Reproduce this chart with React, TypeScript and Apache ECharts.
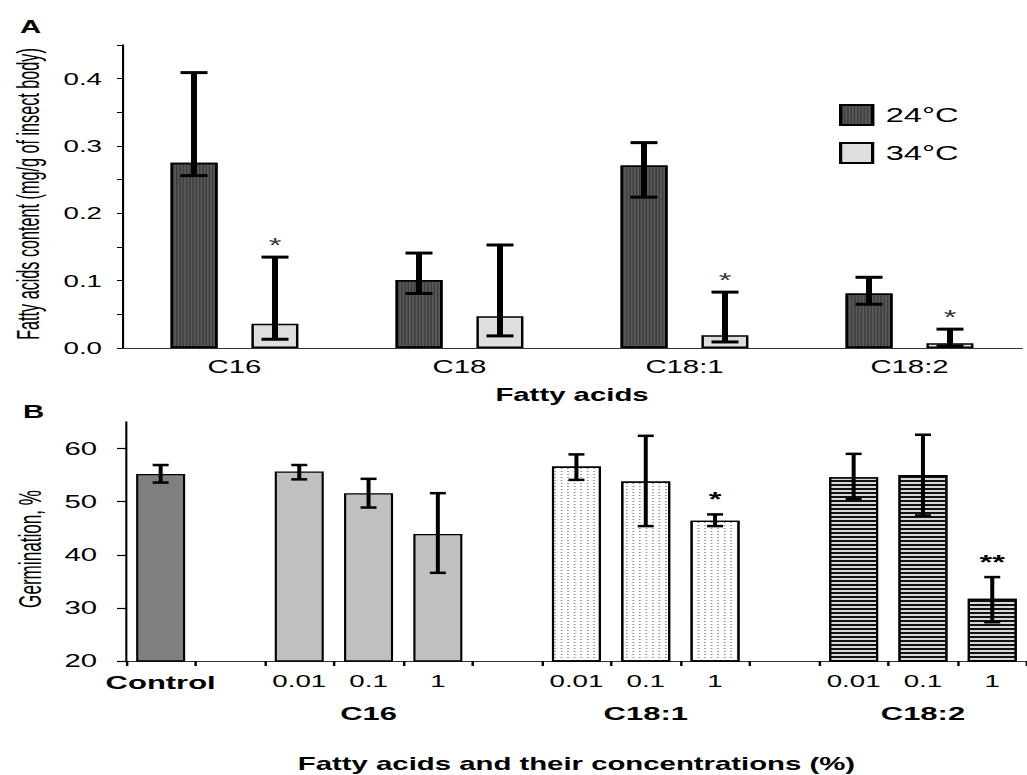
import React, { useEffect, useRef } from 'react';
import * as echarts from 'echarts';

// The reference figure is horizontally stretched; we draw at a narrower width
// and stretch the whole chart by S.
const S = 1.63;
const W = 1027 / S;
const H = 775;
const X = (px: number) => px / S;
const FONT = "'Liberation Sans', Arial, Helvetica, sans-serif";

// ---------- Panel A: fatty acids content ----------
const catsA = ['C16', 'C18', 'C18:1', 'C18:2'];
const namesA = ['24°C', '34°C'];
const mean24 = [0.275, 0.101, 0.271, 0.081];
const hi24 = [0.409, 0.141, 0.305, 0.105];
const lo24 = [0.256, 0.081, 0.224, 0.065];
const mean34 = [0.036, 0.047, 0.019, 0.007];
const hi34 = [0.135, 0.153, 0.083, 0.028];
const lo34 = [0.013, 0.018, 0.009, 0.003];
const sig24 = ['', '', '', ''];
const sig34 = ['*', '', '*', '*'];
const yTicksA = ['0.0', '0.1', '0.2', '0.3', '0.4'];

// ---------- Panel B: germination ----------
const catsB = ['Control', '', '0.01', '0.1', '1', '', '0.01', '0.1', '1', '', '0.01', '0.1', '1'];
const groupsB = ['', '', '', 'C16', '', '', '', 'C18:1', '', '', '', 'C18:2', ''];
const kindB = ['control', '', 'c16', 'c16', 'c16', '', 'c181', 'c181', 'c181', '', 'c182', 'c182', 'c182'];
const meanB = [55.2, null, 55.7, 51.6, 43.9, null, 56.6, 53.8, 46.4, null, 54.6, 55.0, 31.7];
const hiB = [56.9, null, 56.9, 54.3, 51.6, null, 58.9, 62.4, 47.6, null, 59.0, 62.6, 35.8];
const loB = [53.6, null, 54.2, 48.9, 36.6, null, 54.1, 45.4, 45.4, null, 50.5, 47.4, 27.3];
const sigB = ['', '', '', '', '', '', '', '', '*', '', '', '', '**'];

const BAR_W_A = X(47);
const OFF_A = X(40.5);
const BAR_W_B = X(49);

function errRenderer(offset: number, stemW: number, capW: number, capHalf: number, stars: string[], starBold: boolean, starGap: number) {
  return (params: any, api: any) => {
    const i = api.value(0);
    const hi = api.value(1);
    const lo = api.value(2);
    const pHi = api.coord([i, hi]);
    const pLo = api.coord([i, lo]);
    const x = pHi[0] + offset;
    const children: any[] = [
      { type: 'line', shape: { x1: x, y1: pHi[1], x2: x, y2: pLo[1] }, style: { stroke: '#000', lineWidth: stemW } },
      { type: 'line', shape: { x1: x - capHalf, y1: pHi[1], x2: x + capHalf, y2: pHi[1] }, style: { stroke: '#000', lineWidth: capW } },
      { type: 'line', shape: { x1: x - capHalf, y1: pLo[1], x2: x + capHalf, y2: pLo[1] }, style: { stroke: '#000', lineWidth: capW } },
    ];
    const st = stars[i];
    if (st) {
      children.push({
        type: 'text',
        style: {
          text: st, x, y: pHi[1] - starGap, align: 'center', verticalAlign: 'bottom',
          fontSize: 20, fontWeight: starBold ? 'bold' : 'normal', fontFamily: FONT, fill: starBold ? '#000' : '#333',
        },
      });
    }
    return { type: 'group', children };
  };
}

function styleB(kind: string): any {
  const base = { borderColor: '#000', borderWidth: 1.3 };
  if (kind === 'control') return { ...base, color: '#808080' };
  if (kind === 'c16') return { ...base, color: '#c0c0c0' };
  if (kind === 'c181') return {
    ...base, color: '#ffffff',
    decal: { symbol: 'rect', symbolSize: 1, symbolKeepAspect: false, color: '#8a8a8a', dashArrayX: [0.8, 2.4], dashArrayY: [1, 1.6], rotation: 0 },
  };
  return {
    ...base, color: '#d8d8d8',
    decal: { symbol: 'rect', symbolSize: 1, symbolKeepAspect: false, color: '#111111', dashArrayX: [4, 0], dashArrayY: [1.4, 1.9], rotation: 0 },
  };
}

export default function App() {
  const ref = useRef<HTMLDivElement>(null);
  useEffect(() => {
    const chart = echarts.init(ref.current!, null, { renderer: 'svg' });
    const axisTxt = { fontFamily: FONT, color: '#000' };
    const option: any = {
      animation: false,
      backgroundColor: '#ffffff',
      textStyle: { fontFamily: FONT },
      grid: [
        { left: X(122), top: 45, width: X(900), height: 303 },
        { left: X(126), top: 422, width: X(906), height: 239 },
      ],
      legend: {
        data: namesA,
        orient: 'vertical',
        left: X(839),
        top: 104,
        padding: 0,
        itemWidth: X(32),
        itemHeight: 20,
        itemGap: 16,
        selectedMode: false,
        icon: 'rect',
        itemStyle: { borderColor: '#000', borderWidth: 2 },
        textStyle: { fontSize: 20, fontFamily: FONT, color: '#000', padding: [0, 0, 0, 3] },
      },
      xAxis: [
        {
          type: 'category', gridIndex: 0, data: catsA,
          axisLine: { lineStyle: { color: '#333', width: 1.2 } },
          axisTick: { show: false },
          axisLabel: { ...axisTxt, fontSize: 18, margin: 10 },
          name: 'Fatty acids', nameLocation: 'middle', nameGap: 38,
          nameTextStyle: { ...axisTxt, fontSize: 18, fontWeight: 'bold' },
        },
        {
          type: 'category', gridIndex: 1, data: catsB.map((_, i) => String(i)),
          axisLine: { lineStyle: { color: '#333', width: 1.2 } },
          axisTick: { show: true, interval: 0, length: 5, lineStyle: { color: '#000', width: 1.5 } },
          axisLabel: {
            ...axisTxt, fontSize: 17, margin: 12, interval: 0,
            formatter: (v: string) => {
              const i = Number(v);
              return i === 0 ? `{b|${catsB[i]}}` : catsB[i];
            },
            rich: { b: { fontSize: 19, fontWeight: 'bold', fontFamily: FONT, color: '#000' } },
          },
          name: 'Fatty acids and their concentrations (%)', nameLocation: 'middle', nameGap: 94,
          nameTextStyle: { ...axisTxt, fontSize: 18, fontWeight: 'bold' },
        },
        {
          type: 'category', gridIndex: 1, position: 'bottom', offset: 0, data: catsB.map((_, i) => String(i)),
          axisLine: { show: false }, axisTick: { show: false },
          axisLabel: {
            ...axisTxt, fontSize: 19, fontWeight: 'bold', margin: 43, interval: 0,
            formatter: (v: string) => groupsB[Number(v)],
          },
        },
      ],
      yAxis: [
        {
          type: 'value', gridIndex: 0, min: 0, max: 0.45, interval: 0.05,
          axisLine: { show: true, lineStyle: { color: '#000', width: 1.3 } },
          axisTick: { show: true, length: X(5), lineStyle: { color: '#000', width: 1 } },
          splitLine: { show: false },
          axisLabel: {
            ...axisTxt, fontSize: 17, margin: X(20),
            formatter: (v: number) => {
              const k = Math.round(v * 20);
              return k % 2 === 0 ? (yTicksA[k / 2] ?? '') : '';
            },
          },
        },
        {
          type: 'value', gridIndex: 1, min: 20, max: 65, interval: 10,
          axisLine: { show: true, lineStyle: { color: '#000', width: 1.3 } },
          axisTick: { show: true, length: X(9), lineStyle: { color: '#000', width: 1.2 } },
          splitLine: { show: false },
          axisLabel: { ...axisTxt, fontSize: 18, margin: X(29), showMaxLabel: false },
        },
      ],
      series: [
        {
          type: 'bar', name: namesA[0], xAxisIndex: 0, yAxisIndex: 0, data: mean24,
          barWidth: BAR_W_A, barGap: '72%',
          itemStyle: {
            color: '#5a5a5a', borderColor: '#000', borderWidth: 1.5,
            decal: { symbol: 'rect', symbolSize: 1, symbolKeepAspect: false, color: 'rgba(0,0,0,0.3)', dashArrayX: [0.7, 0.9], dashArrayY: [4, 0], rotation: 0 },
          },
        },
        {
          type: 'bar', name: namesA[1], xAxisIndex: 0, yAxisIndex: 0, data: mean34,
          barWidth: BAR_W_A, barGap: '72%',
          itemStyle: { color: '#dedede', borderColor: '#000', borderWidth: 1.5 },
        },
        {
          type: 'custom', xAxisIndex: 0, yAxisIndex: 0, z: 5,
          encode: { x: 0, y: [1, 2] },
          data: catsA.map((_, i) => [i, hi24[i], lo24[i]]),
          renderItem: errRenderer(-OFF_A, X(6), 3, X(13.5), sig24, false, 2),
        },
        {
          type: 'custom', xAxisIndex: 0, yAxisIndex: 0, z: 5,
          encode: { x: 0, y: [1, 2] },
          data: catsA.map((_, i) => [i, hi34[i], lo34[i]]),
          renderItem: errRenderer(OFF_A, X(6), 3, X(13.5), sig34, false, 2),
        },
        {
          type: 'bar', xAxisIndex: 1, yAxisIndex: 1, barWidth: BAR_W_B,
          data: meanB.map((v, i) => (v == null ? '-' : { value: v, itemStyle: styleB(kindB[i]) })),
        },
        {
          type: 'custom', xAxisIndex: 1, yAxisIndex: 1, z: 5,
          encode: { x: 0, y: [1, 2] },
          data: meanB.map((v, i) => (v == null ? null : [i, hiB[i], loB[i]])).filter((d) => d !== null),
          renderItem: errRenderer(0, X(4), 2.5, X(8), sigB, true, 5),
        },
      ],
      graphic: [
        { type: 'text', x: X(20), y: 27, style: { text: 'A', fontSize: 18, fontWeight: 'bold', fontFamily: FONT, fill: '#000', align: 'left', verticalAlign: 'middle' } },
        { type: 'text', x: X(23), y: 412, style: { text: 'B', fontSize: 18, fontWeight: 'bold', fontFamily: FONT, fill: '#000', align: 'left', verticalAlign: 'middle' } },
        { type: 'text', x: X(28), y: 194, rotation: Math.PI / 2, scaleX: 0.853, style: { text: 'Fatty acids content (mg/g of insect body)', fontSize: 19, fontFamily: FONT, fill: '#000', align: 'center', verticalAlign: 'middle' } },
        { type: 'text', x: X(30), y: 549, rotation: Math.PI / 2, scaleX: 0.9, style: { text: 'Germination, %', fontSize: 19, fontFamily: FONT, fill: '#000', align: 'center', verticalAlign: 'middle' } },
      ],
    };
    chart.setOption(option);
    return () => chart.dispose();
  }, []);
  return (
    <div
      ref={ref}
      style={{ position: 'absolute', left: 0, top: 0, width: W, height: H, transform: `scaleX(${S})`, transformOrigin: '0 0', background: '#fff' }}
    />
  );
}
